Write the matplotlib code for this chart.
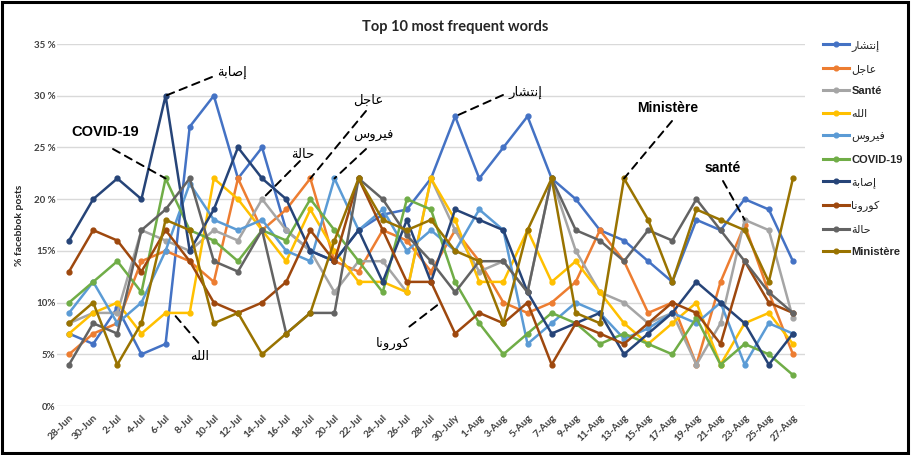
import matplotlib
matplotlib.use('Agg')
import matplotlib.pyplot as plt
from matplotlib.lines import Line2D
from matplotlib.patches import Rectangle

# ---------------- data ----------------
dates = ['28-Jun', '30-Jun', '2-Jul', '4-Jul', '6-Jul', '8-Jul', '10-Jul', '12-Jul', '14-Jul',
         '16-Jul', '18-Jul', '20-Jul', '22-Jul', '24-Jul', '26-Jul', '28-Jul', '30-July', '1-Aug',
         '3-Aug', '5-Aug', '7-Aug', '9-Aug', '11-Aug', '13-Aug', '15-Aug', '17-Aug', '19-Aug',
         '21-Aug', '23-Aug', '25-Aug', '27-Aug']

names = ['إنتشار', 'عاجل', 'Santé', 'الله', 'فيروس', 'COVID-19', 'إصابة', 'كورونا', 'حالة', 'Ministère']

intishar = [7, 6, 9.5, 5, 6, 27, 30, 22, 25, 17, 15, 14, 17, 18.5, 19, 22, 28, 22, 25, 28, 22, 20, 17, 16, 14, 12, 18, 17, 20, 19, 14]
ajil = [5, 7, 8, 14, 15, 14, 12, 22, 17, 19, 22, 14, 13, 17, 16, 13, 17, 14, 10, 9, 10, 12, 17, 14, 9, 10, 4, 12, 17.5, 11, 5]
sante = [8, 9, 9, 17, 16, 15, 17, 16, 20, 17, 15, 11, 14, 14, 11, 22, 17, 13, 14, 11, 22, 15, 11, 10, 8, 9, 4, 8, 18, 17, 8.5]
allah = [7, 9, 10, 7, 9, 9, 22, 20, 17, 14, 19, 15, 12, 12, 11, 22, 18, 12, 12, 17, 12, 14, 11, 8, 6, 8, 10, 4, 8, 9, 6]
fayrus = [9, 12, 8, 10, 15, 21.5, 18, 17, 18, 15, 14, 22, 17, 19, 15, 17, 15, 19, 17, 6, 8, 10, 9, 6.5, 7.5, 9, 8, 10, 4, 8, 7]
covid = [10, 12, 14, 11, 22, 17, 16, 14, 17, 16, 20, 17, 14, 11, 20, 19, 12, 8, 5, 7, 9, 8, 6, 7, 6, 5, 8.5, 4, 6, 5, 3]
isaba = [16, 20, 22, 20, 30, 15, 19, 25, 22, 20, 15, 14, 17, 12, 18, 12, 19, 18, 17, 11, 7, 8, 9, 5, 7, 9, 12, 10, 8, 4, 7]
corona = [13, 17, 16, 13, 17, 14, 10, 9, 10, 12, 17, 14, 22, 17, 12, 12, 7, 9, 8, 10, 4, 8, 7, 6, 8, 10, 9, 6, 14, 10, 9]
hala = [4, 8, 7, 17, 19, 22, 14, 13, 17, 7, 9, 9, 22, 20, 16.5, 14, 11, 14, 14, 11, 22, 17, 16, 14, 17, 16, 20, 17, 14, 11, 9]
ministere = [8, 10, 4, 8, 18, 17, 8, 9, 5, 7, 9, 16, 22, 18, 17, 18, 15, 14, 8, 17, 22, 9, 8, 22, 18, 12, 19, 18, 17, 12, 22]

series = [intishar, ajil, sante, allah, fayrus, covid, isaba, corona, hala, ministere]
colors = ['#4472C4', '#ED7D31', '#A5A5A5', '#FFC000', '#5B9BD5', '#70AD47', '#264478', '#9E480E', '#636363', '#997300']

ytick_vals = [0, 5, 10, 15, 20, 25, 30, 35]
ytick_labels = ['0%', '5%', '10%', '15%', '20 %', '25 %', '30 %', '35 %']

# ---------------- Arabic shaping (matplotlib has no complex text layout) ----------------
FORMS = {
    'ا': (0xFE8D, 0xFE8E, None, None), 'إ': (0xFE87, 0xFE88, None, None),
    'ب': (0xFE8F, 0xFE90, 0xFE91, 0xFE92), 'ة': (0xFE93, 0xFE94, None, None),
    'ت': (0xFE95, 0xFE96, 0xFE97, 0xFE98), 'ج': (0xFE9D, 0xFE9E, 0xFE9F, 0xFEA0),
    'ح': (0xFEA1, 0xFEA2, 0xFEA3, 0xFEA4), 'ر': (0xFEAD, 0xFEAE, None, None),
    'س': (0xFEB1, 0xFEB2, 0xFEB3, 0xFEB4), 'ش': (0xFEB5, 0xFEB6, 0xFEB7, 0xFEB8),
    'ص': (0xFEB9, 0xFEBA, 0xFEBB, 0xFEBC), 'ع': (0xFEC9, 0xFECA, 0xFECB, 0xFECC),
    'ف': (0xFED1, 0xFED2, 0xFED3, 0xFED4), 'ك': (0xFED9, 0xFEDA, 0xFEDB, 0xFEDC),
    'ل': (0xFEDD, 0xFEDE, 0xFEDF, 0xFEE0), 'ن': (0xFEE5, 0xFEE6, 0xFEE7, 0xFEE8),
    'ه': (0xFEE9, 0xFEEA, 0xFEEB, 0xFEEC), 'و': (0xFEED, 0xFEEE, None, None),
    'ي': (0xFEF1, 0xFEF2, 0xFEF3, 0xFEF4),
}


def is_arabic(s):
    return any(c in FORMS for c in s)


def shape(s):
    if not is_arabic(s):
        return s
    out = []
    for i, c in enumerate(s):
        if c not in FORMS:
            out.append(c)
            continue
        prev = s[i - 1] if i > 0 else None
        nxt = s[i + 1] if i + 1 < len(s) else None
        jp = prev in FORMS and FORMS[prev][2] is not None
        jn = nxt in FORMS and FORMS[c][2] is not None
        iso, fin, ini, med = FORMS[c]
        if jp and jn:
            g = med
        elif jp:
            g = fin
        elif jn:
            g = ini
        else:
            g = iso
        out.append(chr(g))
    return ''.join(reversed(out))


LATIN = ['Liberation Sans', 'DejaVu Sans']
ARAB = ['DejaVu Sans']

W, H = 911, 455


def fx(px):
    return px / W


def fy(py):
    return 1 - py / H


fig = plt.figure(figsize=(W / 100, H / 100), dpi=100)
fig.patch.set_facecolor('white')
ax = fig.add_axes([fx(57), fy(406), (805 - 57) / W, (406 - 44) / H])

xs = list(range(len(dates)))
handles = []
for name, vals, col in zip(names, series, colors):
    ax.plot(xs, vals, color=col, lw=1.8, marker='o', ms=3.5, solid_joinstyle='round', zorder=3)
    handles.append(Line2D([0], [0], color=col, lw=2.2, marker='o', ms=3.4))

ax.set_xlim(-0.5, len(dates) - 0.5)
ax.set_ylim(0, 35)
ax.set_yticks(ytick_vals)
ax.set_yticklabels(ytick_labels, fontsize=7, fontweight='bold', color='#404040', family=['Lato', 'DejaVu Sans'])
ax.set_xticks(xs)
ax.set_xticklabels(dates, rotation=45, ha='right', rotation_mode='anchor', fontsize=7.3,
                   fontweight='bold', color='#404040', family=['Lato', 'DejaVu Sans'])
ax.tick_params(axis='both', length=0)
ax.tick_params(axis='y', pad=1)
ax.tick_params(axis='x', pad=5)
ax.grid(axis='y', color='#D9D9D9', lw=1.0)
ax.set_axisbelow(True)
for sp in ax.spines.values():
    sp.set_visible(False)

fig.text(fx(20), fy(225), '% facebbok posts', rotation=90, ha='center', va='center',
         fontsize=7.5, fontweight='bold', color='#262626', family=['Lato', 'DejaVu Sans'])

fig.text(0.5, fy(27), 'Top 10 most frequent words', ha='center', va='center', fontsize=10.5,
         fontweight='bold', color='#262626', family=['Lato', 'DejaVu Sans'])

# legend
leg = fig.legend(handles, [shape(n) for n in names], loc='upper left', bbox_to_anchor=(fx(823), fy(40)),
                 frameon=False, fontsize=8, handlelength=2.3, handletextpad=0.25, labelspacing=1.13,
                 borderpad=0, borderaxespad=0)
for t, n in zip(leg.get_texts(), names):
    if is_arabic(n):
        t.set_family(ARAB)
        t.set_fontweight('normal')
    else:
        t.set_family(LATIN)
        t.set_fontweight('bold')
    t.set_color('#262626')

# annotations: (label, series index, x index, text px pos, line end px pos)
annots = [
    ('إصابة', 6, 4, (232, 72), (212, 77)),
    ('COVID-19', 5, 4, (105, 132), (113, 149)),
    ('حالة', 2, 8, (303, 155), (300, 161)),
    ('عاجل', 1, 10, (368, 100), (366, 111)),
    ('فيروس', 4, 11, (373, 136), (366, 149)),
    ('إنتشار', 0, 16, (525, 92), (503, 95)),
    ('Ministère', 9, 23, (668, 108), (672, 121)),
    ('santé', 2, 28, (723, 168), (723, 181)),
]
for label, si, xi, tpos, lend in annots:
    ax.annotate('', xy=(xi, series[si][xi]), xycoords='data', xytext=(fx(lend[0]), fy(lend[1])),
                textcoords='figure fraction',
                arrowprops=dict(arrowstyle='-', color='black', lw=1.4, linestyle=(0, (4, 3)),
                                shrinkA=0, shrinkB=0), zorder=5)
    if is_arabic(label):
        fig.text(fx(tpos[0]), fy(tpos[1]), shape(label), ha='center', va='center', fontsize=9.5,
                 family=ARAB, color='black')
    else:
        fig.text(fx(tpos[0]), fy(tpos[1]), label, ha='center', va='center',
                 fontsize=10.5 if label == 'COVID-19' else 10, fontweight='bold', family=LATIN, color='black')

# annotations pointing to a spot between points
for label, si, xpos, tpos, lend in [('الله', 3, 4.3, (200, 357), (202, 347)),
                                    ('كورونا', 7, 15.4, (393, 343), (405, 330))]:
    i0 = int(xpos)
    frac = xpos - i0
    yv = series[si][i0] + (series[si][i0 + 1] - series[si][i0]) * frac
    ax.annotate('', xy=(xpos, yv), xycoords='data', xytext=(fx(lend[0]), fy(lend[1])),
                textcoords='figure fraction',
                arrowprops=dict(arrowstyle='-', color='black', lw=1.4, linestyle=(0, (4, 3)),
                                shrinkA=4, shrinkB=0), zorder=5)
    fig.text(fx(tpos[0]), fy(tpos[1]), shape(label), ha='center', va='center', fontsize=9.5,
             family=ARAB, color='black')

fig.patches.append(Rectangle((0.002, 0.004), 0.995, 0.992, transform=fig.transFigure, fill=False,
                             lw=2.2, ec='black'))

fig.savefig('out.png', dpi=100, facecolor='white')
